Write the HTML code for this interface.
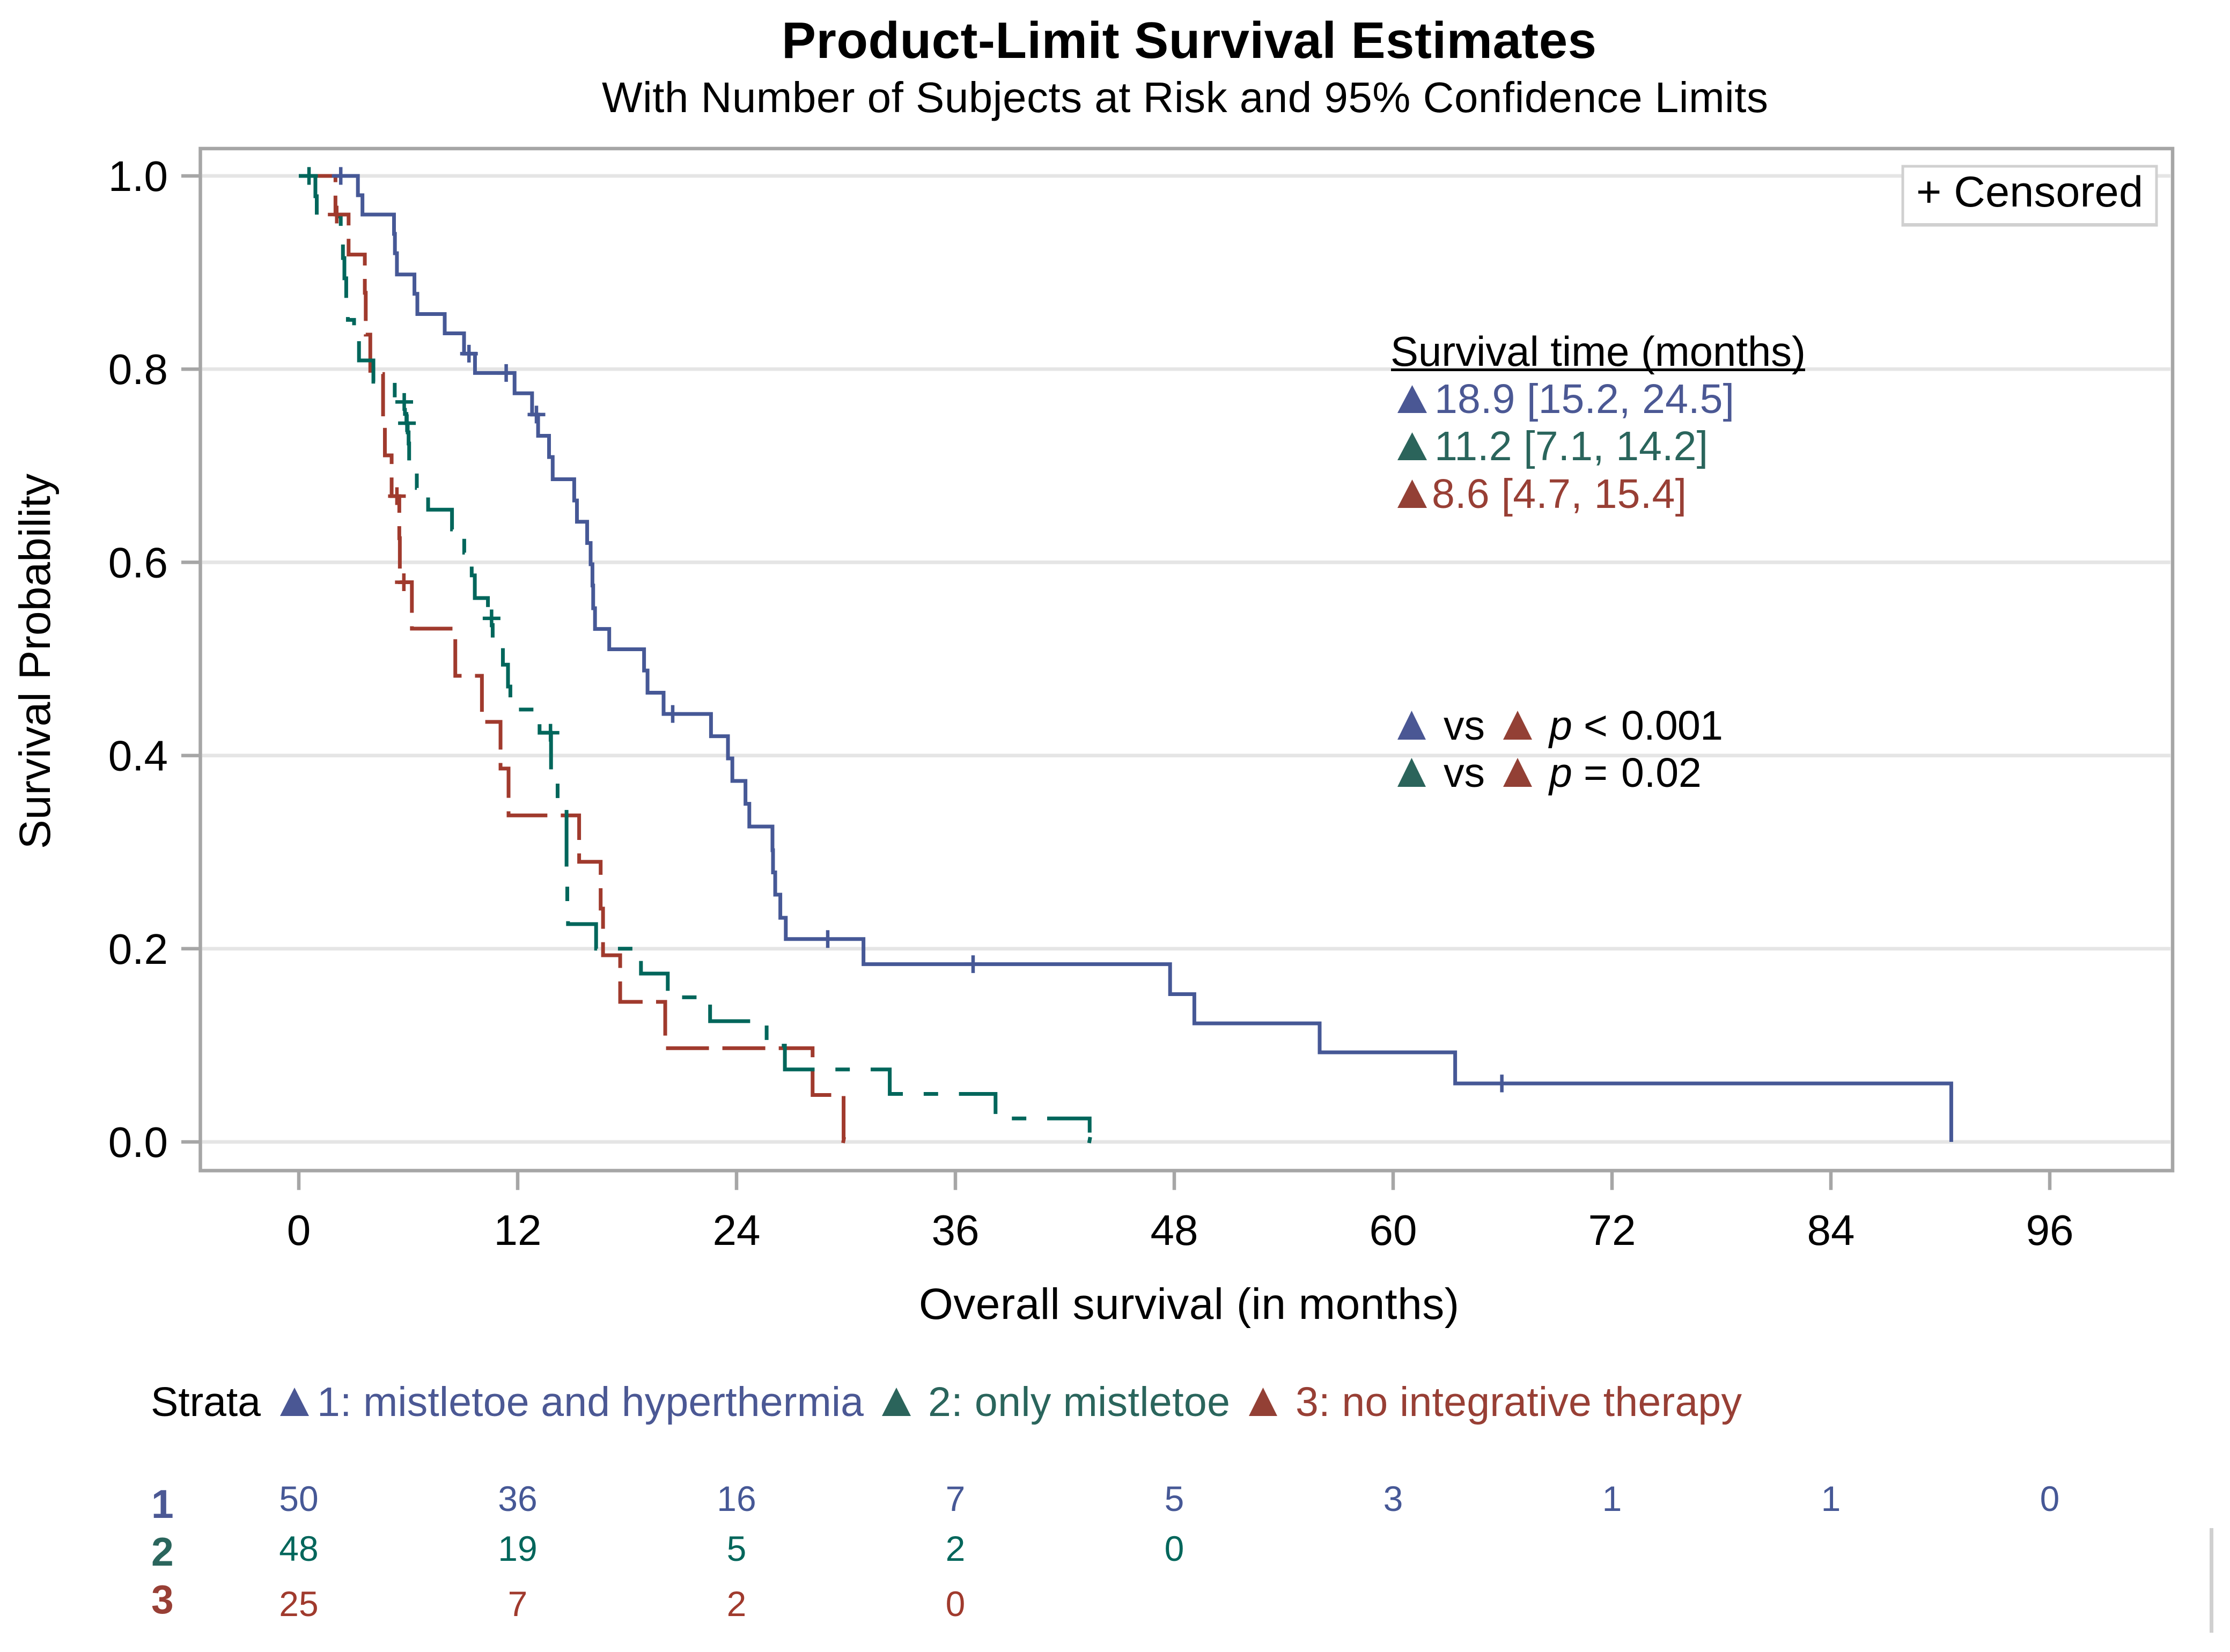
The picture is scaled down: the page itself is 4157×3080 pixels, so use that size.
<!DOCTYPE html>
<html lang="en">
<head>
<meta charset="utf-8">
<title>Product-Limit Survival Estimates</title>
<style>
html,body{margin:0;padding:0;background:#fff;}
svg{display:block;}
text{font-family:"Liberation Sans",Arial,sans-serif;fill:#000;}
.blue{fill:#4b5894;}
.green{fill:#2a655c;}
.red{fill:#983f35;}
</style>
</head>
<body>
<svg id="chart" xmlns="http://www.w3.org/2000/svg" width="4157" height="3080" viewBox="0 0 4157 3080">
<rect x="0" y="0" width="4157" height="3080" fill="#ffffff"/>
<text x="1457" y="108" font-size="96" font-weight="700" textLength="1519">Product-Limit Survival Estimates</text>
<text x="1122" y="209" font-size="80" textLength="2174">With Number of Subjects at Risk and 95% Confidence Limits</text>
<g id="grid"></g>
<g id="axes"></g>
<text transform="translate(93,1583) rotate(-90)" font-size="82" textLength="700">Survival Probability</text>
<text x="1713" y="2459" font-size="82" textLength="1007">Overall survival (in months)</text>
<g id="curves"></g>
<g id="censors"></g>
<g>
<rect x="3547" y="310" width="473" height="110" fill="#ffffff" stroke="#d0d0d0" stroke-width="5"/>
<rect x="3545" y="416" width="476" height="6" fill="#d0d0d0"/>
<text x="3572" y="385" font-size="81" textLength="423">+ Censored</text>
</g>
<g>
<text x="2592" y="682" font-size="78" textLength="774">Survival time (months)</text>
<rect x="2593" y="687" width="772" height="5" fill="#000"/>
<polygon points="2605,770 2660,770 2632.5,718" fill="#4a5794"/>
<text class="blue" x="2674" y="770" font-size="77" textLength="559">18.9 [15.2, 24.5]</text>
<polygon points="2605,858 2660,858 2632.5,806" fill="#2b645b"/>
<text class="green" x="2674" y="858" font-size="77" textLength="510">11.2 [7.1, 14.2]</text>
<polygon points="2605,947 2660,947 2632.5,894" fill="#934035"/>
<text class="red" x="2669" y="947" font-size="77" textLength="475">8.6 [4.7, 15.4]</text>
</g>
<g>
<polygon points="2605,1379 2658,1379 2631.5,1325" fill="#4a5794"/>
<text x="2691" y="1379" font-size="77">vs</text>
<polygon points="2802,1379 2856,1379 2829,1325" fill="#934035"/>
<text x="2888" y="1379" font-size="77" font-style="italic">p</text>
<text x="2952" y="1379" font-size="77">&lt;</text>
<text x="3022" y="1379" font-size="77" textLength="190">0.001</text>
<polygon points="2605,1467 2658,1467 2631.5,1413" fill="#2b645b"/>
<text x="2691" y="1467" font-size="77">vs</text>
<polygon points="2802,1467 2856,1467 2829,1413" fill="#934035"/>
<text x="2888" y="1467" font-size="77" font-style="italic">p</text>
<text x="2952" y="1467" font-size="77">=</text>
<text x="3022" y="1467" font-size="77">0.02</text>
</g>
<g>
<text x="281" y="2640" font-size="77" textLength="205">Strata</text>
<polygon points="522,2640 576,2640 549,2587" fill="#4a5794"/>
<text class="blue" x="591" y="2640" font-size="77" textLength="1019">1: mistletoe and hyperthermia</text>
<polygon points="1644,2640 1698,2640 1671,2587" fill="#2b645b"/>
<text class="green" x="1730" y="2640" font-size="77" textLength="563">2: only mistletoe</text>
<polygon points="2328,2640 2381,2640 2354.5,2587" fill="#934035"/>
<text class="red" x="2415" y="2640" font-size="77" textLength="832">3: no integrative therapy</text>
</g>
<g>
<text class="blue" x="282" y="2830" font-size="75" font-weight="700">1</text>
<text class="green" x="282" y="2919" font-size="75" font-weight="700">2</text>
<text class="red" x="282" y="3008" font-size="75" font-weight="700">3</text>
</g>
<g id="risk"></g>
<rect x="4119" y="2849" width="7" height="195" fill="#d0d0d0"/>
</svg>
<script>
const xTickValues = [0, 12, 24, 36, 48, 60, 72, 84, 96];
const yTickValues = [0, 0.2, 0.4, 0.6, 0.8, 1.0];

const blueTimes = [3.24, 3.49, 5.22, 5.27, 5.38, 6.34, 6.5, 8.0, 9.06, 9.66, 11.83, 12.79, 13.12, 13.72, 13.92, 15.1, 15.25, 15.81, 16.0, 16.1, 16.14, 16.24, 17.02, 18.93, 19.12, 20.0, 22.6, 23.53, 23.77, 24.49, 24.7, 25.97, 26.0, 26.12, 26.4, 26.7, 30.96, 47.77, 49.1, 55.97, 63.4, 90.6];
const blueSurvival = [0.98, 0.96, 0.94, 0.92, 0.898, 0.878, 0.857, 0.837, 0.816, 0.796, 0.775, 0.753, 0.731, 0.709, 0.686, 0.664, 0.642, 0.62, 0.598, 0.576, 0.5525, 0.531, 0.51, 0.488, 0.465, 0.443, 0.42, 0.397, 0.3737, 0.35, 0.3265, 0.302, 0.279, 0.256, 0.232, 0.21, 0.184, 0.153, 0.1227, 0.0927, 0.0605, 0];
const blueCensorTimes = [2.3, 9.33, 11.37, 13.03, 20.5, 29.0, 36.97, 65.96];
const blueCensorSurvival = [1.0, 0.816, 0.796, 0.753, 0.443, 0.21, 0.184, 0.0605];

const greenTimes = [0.91, 0.985, 2.3, 2.42, 2.5, 2.6, 2.69, 3.03, 3.3, 4.09, 5.26, 5.82, 5.9, 5.97, 6.02, 6.05, 6.47, 7.09, 8.4, 9.07, 9.48, 9.65, 10.37, 10.63, 11.19, 11.47, 11.6, 13.2, 13.83, 14.19, 14.68, 14.72, 14.76, 16.3, 18.76, 20.23, 22.55, 25.65, 26.65, 32.4, 38.2, 43.36];
const greenSurvival = [0.979, 0.958, 0.9365, 0.915, 0.894, 0.872, 0.851, 0.83, 0.809, 0.787, 0.766, 0.7536, 0.744, 0.7345, 0.723, 0.702, 0.677, 0.6545, 0.634, 0.61, 0.5865, 0.563, 0.542, 0.518, 0.494, 0.4714, 0.4476, 0.4236, 0.372, 0.346, 0.2715, 0.245, 0.2255, 0.2, 0.1743, 0.1497, 0.125, 0.0997, 0.075, 0.0497, 0.0243, 0];
const greenCensorTimes = [0.56, 5.78, 5.93, 10.57, 13.8];
const greenCensorSurvival = [1.0, 0.766, 0.744, 0.542, 0.4236];

const redTimes = [2.01, 2.73, 3.62, 3.67, 3.92, 4.62, 4.72, 5.09, 5.51, 5.54, 6.2, 8.58, 10.04, 11.06, 11.5, 15.37, 16.55, 16.68, 17.62, 20.09, 28.17, 29.87];
const redSurvival = [0.96, 0.9186, 0.879, 0.8357, 0.795, 0.75, 0.7107, 0.6685, 0.625, 0.5794, 0.5314, 0.4825, 0.4348, 0.3865, 0.338, 0.29, 0.2415, 0.1932, 0.145, 0.097, 0.0486, 0];
const redCensorTimes = [2.08, 5.38, 5.76];
const redCensorSurvival = [0.96, 0.6685, 0.5794];

const riskBlue = [50, 36, 16, 7, 5, 3, 1, 1, 0];
const riskGreen = [48, 19, 5, 2, 0];
const riskRed = [25, 7, 2, 0];

const NS = 'http://www.w3.org/2000/svg';
function xScale(t) { return 557 + 34 * t; }
function yScale(v) { return 2129 - 1801 * v; }
function make(tag, parent, attrs) {
  const el = document.createElementNS(NS, tag);
  for (const k in attrs) el.setAttribute(k, attrs[k]);
  parent.appendChild(el);
  return el;
}

const gridLayer = document.getElementById('grid');
const axesLayer = document.getElementById('axes');
yTickValues.forEach(function (v) {
  const line = make('line', gridLayer, {x1: 377, x2: 4046, y1: yScale(v), y2: yScale(v), stroke: '#e5e5e5', 'stroke-width': 6.7});
  
  
});
const frame = make('rect', axesLayer, {x: 373.5, y: 277, width: 3676.5, height: 1905.5, fill: 'none', stroke: '#a6a6a6', 'stroke-width': 6.5});


yTickValues.forEach(function (v) {
  const tick = make('line', axesLayer, {x1: 338, x2: 374, y1: yScale(v), y2: yScale(v), stroke: '#a6a6a6', 'stroke-width': 6.5});
  
  
  const label = make('text', axesLayer, {x: 313, y: yScale(v) + 28, 'font-size': 80, 'text-anchor': 'end'});
  label.textContent = v.toFixed(1);
  
  
});
xTickValues.forEach(function (t) {
  const tick = make('line', axesLayer, {x1: xScale(t), x2: xScale(t), y1: 2182, y2: 2218.6, stroke: '#a6a6a6', 'stroke-width': 6.5});
  
  
  const label = make('text', axesLayer, {x: xScale(t), y: 2321, 'font-size': 80, 'text-anchor': 'middle'});
  label.textContent = String(t);
  
  
});

const curveLayer = document.getElementById('curves');
const censorLayer = document.getElementById('censors');
function stepPath(times, survival) {
  let d = 'M' + xScale(0) + ' ' + yScale(1);
  times.forEach(function (t, i) {
    d += ' H' + xScale(t).toFixed(2) + ' V' + yScale(survival[i]).toFixed(2);
  });
  return d;
}
function drawCurve(name, times, survival, color, dash) {
  const path = make('path', curveLayer, {d: stepPath(times, survival), fill: 'none', stroke: color, 'stroke-width': 7, 'stroke-linejoin': 'miter', 'stroke-linecap': 'butt'});
  if (dash) path.setAttribute('stroke-dasharray', dash);
  
  
}
function drawEndMark(name, times, color) {
  const t = times[times.length - 1];
  const mark = make('line', curveLayer, {x1: xScale(t) + 1, x2: xScale(t) - 1, y1: yScale(0) - 9, y2: yScale(0) + 2, stroke: color, 'stroke-width': 7});
  
  
}
function drawCensors(name, times, survival, color) {
  times.forEach(function (t, i) {
    const cx = xScale(t), cy = yScale(survival[i]);
    const plus = make('path', censorLayer, {d: 'M' + (cx - 16.5) + ' ' + cy + ' H' + (cx + 16.5) + ' M' + cx + ' ' + (cy - 16.5) + ' V' + (cy + 16.5), fill: 'none', stroke: color, 'stroke-width': 6.5});
    
    
  });
}
const blueColor = '#465896';
const greenColor = '#00665b';
const redColor = '#a03a2d';
drawCurve('blue', blueTimes, blueSurvival, blueColor, null);
drawCurve('red', redTimes, redSurvival, redColor, '80 25.04');
drawEndMark('red', redTimes, redColor);
drawCurve('green', greenTimes, greenSurvival, greenColor, '105.6 38.8 26.9 38.85');
drawEndMark('green', greenTimes, greenColor);
drawCensors('blue', blueCensorTimes, blueCensorSurvival, blueColor);
drawCensors('green', greenCensorTimes, greenCensorSurvival, greenColor);
drawCensors('red', redCensorTimes, redCensorSurvival, redColor);

const riskLayer = document.getElementById('risk');
function drawRisk(name, values, baseline, color) {
  values.forEach(function (n, i) {
    const label = make('text', riskLayer, {x: xScale(xTickValues[i]), y: baseline, 'font-size': 66, 'text-anchor': 'middle'});
    label.style.fill = color;
    label.textContent = String(n);
    
    
  });
}
drawRisk('stratum-1', riskBlue, 2817, blueColor);
drawRisk('stratum-2', riskGreen, 2910, greenColor);
drawRisk('stratum-3', riskRed, 3013, redColor);
</script>
</body>
</html>
